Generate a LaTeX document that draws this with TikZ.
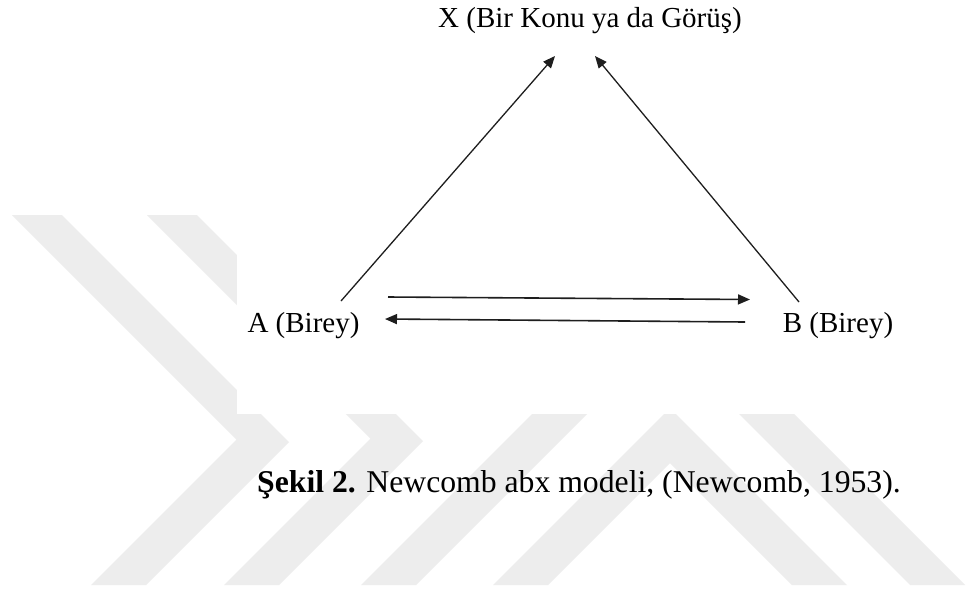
\documentclass[tikz,border=0pt]{standalone}
\usepackage{fontspec}
\setmainfont{Liberation Serif}
\newfontfamily\tnrfont{Liberation Serif}
\usetikzlibrary{arrows.meta}
\definecolor{wm}{HTML}{EDEDED}
\definecolor{ink}{HTML}{1E1E1E}
\begin{document}
\begin{tikzpicture}[x=1pt,y=-1pt,
  wmark/.style={fill=wm,draw=none},
  lbl/.style={inner sep=0pt,anchor=base,font=\tnrfont\fontsize{29}{34}\selectfont},
  conn/.style={draw=ink,line width=1.3pt,-{Triangle[length=12pt,width=10pt]}},
  hconn/.style={conn,line width=1.6pt}]
\useasboundingbox (0,0) rectangle (977,590);
\fill[white] (0,0) rectangle (977,590);
% watermark
\fill[wmark] (12,215) -- (62,215) -- (289,442) -- (146,585) -- (91,585) -- (236.5,439.5) -- cycle;
\fill[wmark] (147,215) -- (197,215) -- (423,441) -- (279,585) -- (224,585) -- (370.5,438.5) -- cycle;
\fill[wmark] (361,585) -- (416,585) -- (786,215) -- (731,215) -- cycle;
\fill[wmark] (493,585) -- (548,585) -- (670,463) -- (792,585) -- (847,585) -- (670,408) -- cycle;
\fill[wmark] (540,215) -- (595,215) -- (965,585) -- (910,585) -- cycle;
\fill[white] (237,0) rectangle (977,414);
% labels
\node[lbl] (X) at (590,27) {X (Bir Konu ya da Görüş)};
\node[lbl] (A) at (303.5,332) {A (Birey)};
\node[lbl] (B) at (838,332) {B (Birey)};
% connector ends
\coordinate (aup) at (341,301);
\coordinate (bup) at (799,302);
\coordinate (xl) at (555,56);
\coordinate (xr) at (595,56);
\coordinate (ar) at (388,297);
\coordinate (bl) at (750,299.5);
\coordinate (br) at (745,322);
\coordinate (al) at (385,319);
\draw[conn] (aup) -- (xl);
\draw[conn] (bup) -- (xr);
\draw[hconn] (ar) -- (bl);
\draw[hconn] (br) -- (al);
% caption
\node[inner sep=0pt,anchor=base west,font=\tnrfont\fontsize{31.7}{38}\selectfont] (cap) at (257,492) {\textbf{Şekil 2.} Newcomb abx modeli, (Newcomb, 1953).};
\end{tikzpicture}
\end{document}
